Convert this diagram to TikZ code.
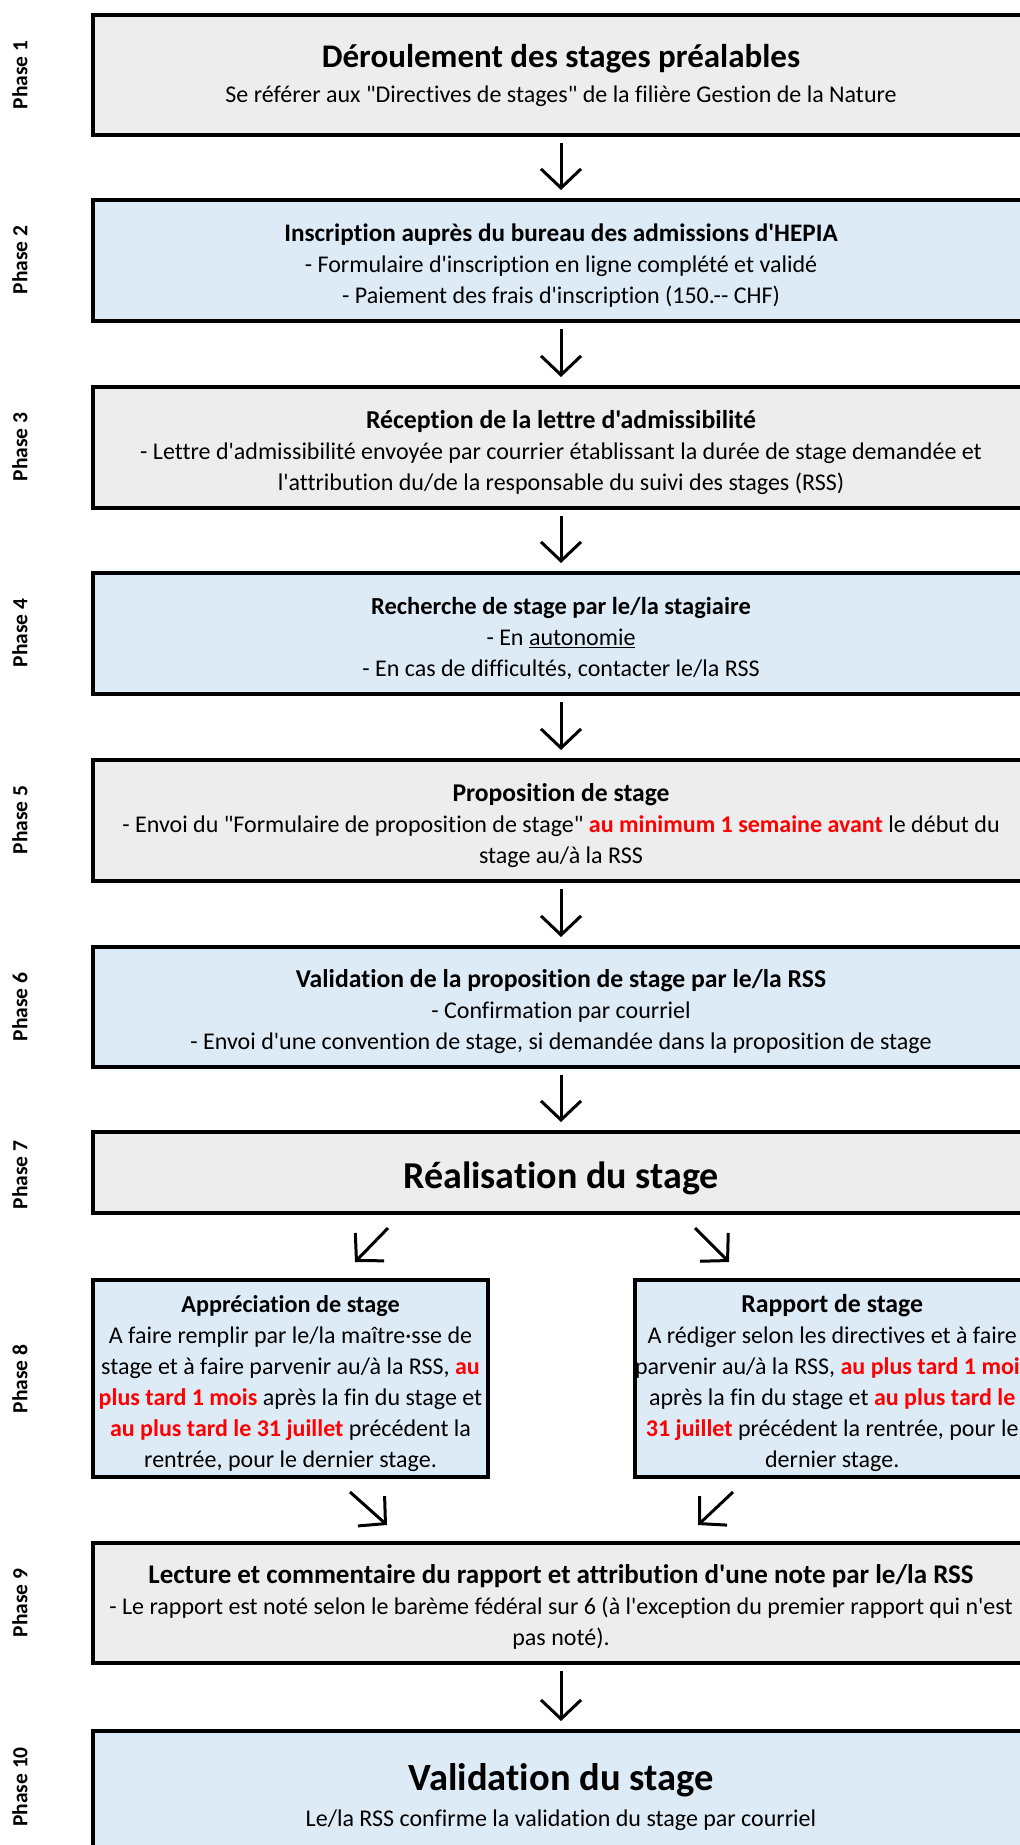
\documentclass[tikz,border=0pt]{standalone}
\usepackage{fontspec}
\setmainfont{Carlito}[Ligatures={TeXOff,NoCommon}]
\usetikzlibrary{arrows.meta,calc}
\definecolor{boxgrey}{HTML}{EDEDED}
\definecolor{boxblue}{HTML}{DDEBF7}
\definecolor{redtxt}{HTML}{FF0000}
\newcommand{\rd}[1]{\textcolor{redtxt}{\bfseries #1}}
\newcommand{\ttl}[2][25.5]{{\fontsize{#1}{31}\selectfont\bfseries #2}}
\newcommand{\tst}{\rule{0pt}{30pt}}
\newcommand{\bst}{\rule[-6.5pt]{0pt}{6.5pt}}
\begin{document}
\begin{tikzpicture}[x=1pt,y=-1pt,
  box/.style={draw=black, line width=3.5pt, rectangle, inner sep=0pt, outer sep=0pt,
    anchor=north west, align=center, font=\fontsize{24}{31}\selectfont},
  greybox/.style={box, fill=boxgrey},
  bluebox/.style={box, fill=boxblue},
  phase/.style={rotate=90, inner sep=0pt, font=\fontsize{21.5}{24}\selectfont\bfseries},
  arr/.style={line width=3pt, -{Straight Barb[length=19pt, width=40pt, line width=3pt]}},
  varr/.style={arr, shorten <=8pt, shorten >=10pt},
]
\useasboundingbox (0,0) rectangle (1020,1845);

% boxes
\node[greybox, minimum width=936pt, minimum height=120pt] (b1) at (93,15)
  {{\fontsize{33}{36}\selectfont\bfseries Déroulement des stages préalables}\\[4pt]
   Se référer aux "Directives de stages" de la filière Gestion de la Nature};
\node[bluebox, minimum width=936pt, minimum height=121pt] (b2) at (93,200)
  {\tst\ttl[25.2]{Inscription auprès du bureau des admissions d'HEPIA}\\
   - Formulaire d'inscription en ligne complété et validé\\
   - Paiement des frais d'inscription (150.-- CHF)\bst};
\node[greybox, minimum width=936pt, minimum height=121pt] (b3) at (93,387)
  {\tst\ttl[25.8]{Réception de la lettre d'admissibilité}\\
   - Lettre d'admissibilité envoyée par courrier établissant la durée de stage demandée et\\
   l'attribution du/de la responsable du suivi des stages (RSS)\bst};
\node[bluebox, minimum width=936pt, minimum height=121pt] (b4) at (93,573)
  {\tst\ttl[24.5]{Recherche de stage par le/la stagiaire}\\
   - En \underline{autonomie}\\
   - En cas de difficultés, contacter le/la RSS\bst};
\node[greybox, minimum width=936pt, minimum height=121pt] (b5) at (93,760)
  {\tst\ttl[25.6]{Proposition de stage}\\
   - Envoi du "Formulaire de proposition de stage" \rd{au minimum 1 semaine avant} le début du\\
   stage au/à la RSS\bst};
\node[bluebox, minimum width=936pt, minimum height=120pt] (b6) at (93,947)
  {\tst\ttl[25.7]{Validation de la proposition de stage par le/la RSS}\\
   - Confirmation par courriel\\
   - Envoi d'une convention de stage, si demandée dans la proposition de stage\bst};
\node[greybox, minimum width=936pt, minimum height=81pt] (b7) at (93,1132)
  {\rule{0pt}{38pt}\fontsize{38}{42}\selectfont\bfseries Réalisation du stage};
\node[bluebox, minimum width=395pt, minimum height=197pt] (b8l) at (93,1280)
  {\tst\ttl[24.2]{Appréciation de stage}\\
   A faire remplir par le/la maître·sse de\\
   stage et à faire parvenir au/à la RSS, \rd{au}\\
   \rd{plus tard 1 mois} après la fin du stage et\\
   \rd{au plus tard le 31 juillet} précédent la\\
   rentrée, pour le dernier stage.\bst};
\node[bluebox, minimum width=394pt, minimum height=197pt] (b8r) at (635,1280)
  {\tst\ttl[25.8]{Rapport de stage}\\
   A rédiger selon les directives et à faire\\
   parvenir au/à la RSS, \rd{au plus tard 1 mois}\\
   après la fin du stage et \rd{au plus tard le}\\
   \rd{31 juillet} précédent la rentrée, pour le\\
   dernier stage.\bst};
\node[greybox, minimum width=936pt, minimum height=120pt] (b9) at (93,1543)
  {\tst\ttl[27]{Lecture et commentaire du rapport et attribution d'une note par le/la RSS}\\
   - Le rapport est noté selon le barème fédéral sur 6 (à l'exception du premier rapport qui n'est\\
   pas noté).\bst};
\node[bluebox, minimum width=936pt, minimum height=132pt] (b10) at (93,1731)
  {{\fontsize{38.5}{42}\selectfont\bfseries Validation du stage}\\[4.5pt]
   Le/la RSS confirme la validation du stage par courriel};

% phase labels
\node[phase] (p1) at (20,75) {Phase 1};
\node[phase] (p2) at (20,260) {Phase 2};
\node[phase] (p3) at (20,447) {Phase 3};
\node[phase] (p4) at (20,633) {Phase 4};
\node[phase] (p5) at (20,820) {Phase 5};
\node[phase] (p6) at (20,1007) {Phase 6};
\node[phase] (p7) at (20,1175) {Phase 7};
\node[phase] (p8) at (20,1379) {Phase 8};
\node[phase] (p9) at (20,1603) {Phase 9};
\node[phase] (p10) at (20,1787) {Phase 10};

% vertical arrows
\draw[varr] (b1.south) -- (b2.north);
\draw[varr] (b2.south) -- (b3.north);
\draw[varr] (b3.south) -- (b4.north);
\draw[varr] (b4.south) -- (b5.north);
\draw[varr] (b5.south) -- (b6.north);
\draw[varr] (b6.south) -- (b7.north);
\draw[varr] (b9.south) -- (b10.north);

% diagonal arrows
\draw[arr] ($(b7.south west)+(295,15)$) -- ($(b8l.north west)+(262,-18)$);
\draw[arr] ($(b7.south west)+(602,15)$) -- ($(b8r.north west)+(94,-18)$);
\draw[arr] ($(b8l.south west)+(257,15)$) -- ($(b9.north west)+(294,-18)$);
\draw[arr] ($(b8r.south west)+(98,15)$) -- ($(b9.north west)+(605,-18)$);
\end{tikzpicture}
\end{document}
